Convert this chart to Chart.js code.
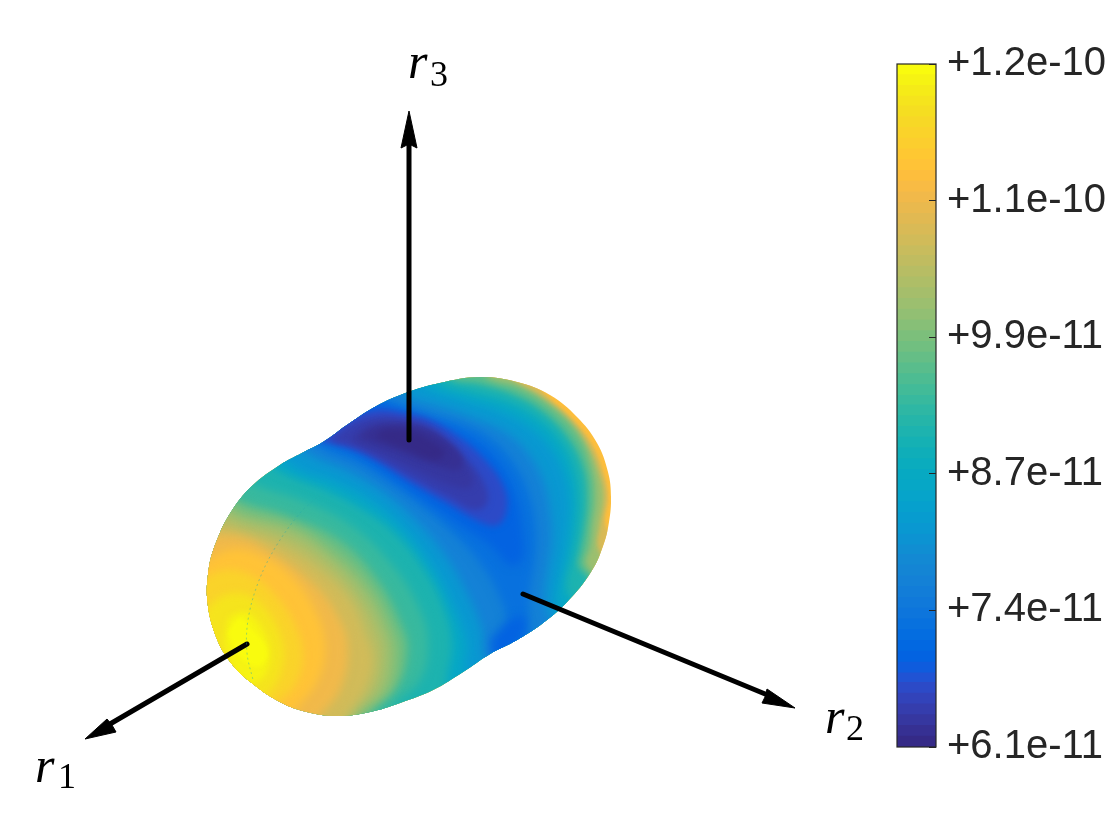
<!DOCTYPE html>
<html>
<head>
<meta charset="utf-8">
<title>r1 r2 r3 surface</title>
<script src="https://cdn.jsdelivr.net/npm/chart.js@4"></script>
<style>
  html, body { margin: 0; padding: 0; background: #fff; }
  #page { position: relative; width: 1120px; height: 840px; overflow: hidden; }
  canvas { position: absolute; }
  #surface, #axes3d { left: 0; top: 0; }
  #colorbar { left: 880px; top: 40px; }
</style>
</head>
<body>
<div id="page">
  <canvas id="surface" width="1120" height="840"></canvas>
  <canvas id="axes3d" width="1120" height="840"></canvas>
  <canvas id="colorbar" width="240" height="740"></canvas>
</div>
<script>
'use strict';

// colorbar, values in units of 1e-11
const colorbarEdges = [6.13,6.23,6.33,6.43,6.53,6.63,6.73,6.82,6.92,7.02,7.12,7.22,7.32,7.42,7.52,7.62,7.72,7.82,7.92,8.01,8.11,8.21,8.31,8.41,8.51,8.61,8.71,8.81,8.91,9.01,9.11,9.21,9.31,9.40,9.50,9.60,9.70,9.80,9.90,10.00,10.10,10.20,10.30,10.40,10.50,10.60,10.70,10.79,10.89,10.99,11.09,11.19,11.29,11.39,11.49,11.59,11.69,11.79,11.89,11.99,12.09,12.18,12.28,12.38,12.48];
const colorbarTickValues = [6.13, 7.40, 8.67, 9.94, 11.21, 12.48];
const colorbarTickLabels = ['+6.1e-11', '+7.4e-11', '+8.7e-11', '+9.9e-11', '+1.1e-10', '+1.2e-10'];
const parula = ['#352a87','#363093','#3637a0','#353dad','#3243ba','#2c4ac7','#2053d4','#0f5cdd','#0363e1','#0268e1','#046de0','#0871de','#0d75dc','#1079da','#127dd8','#1481d6','#1485d4','#1389d3','#108ed2','#0c93d2','#0998d1','#079ccf','#06a0cd','#06a4ca','#06a7c6','#07a9c2','#0aacbe','#0faeb9','#15b1b4','#1db3af','#25b5a9','#2eb7a4','#38b99e','#42bb98','#4dbc92','#59bd8c','#65be86','#71bf80','#7cbf7b','#87bf77','#92bf73','#9cbf6f','#a5be6b','#aebe67','#b7bd64','#c0bc60','#c8bc5d','#d1bb59','#d9ba56','#e1b952','#e9b94e','#f1b94a','#f8bb44','#fdbe3d','#ffc337','#fec832','#fcce2e','#fad32a','#f7d826','#f5de21','#f5e41d','#f5eb18','#f6f313','#f9fb0e'];

// silhouette of the surface, last points overlap the first so the seam stays smooth
const outline = [[207,597],[209,567],[217,540],[231,512],[252,486],[280,465],[302,453],[323,442],[347,425],[373,408],[403,394],[440,383],[480,377],[517,382],[550,395],[577,417],[597,443],[608,472],[611,497],[609,522],[603,546],[591,572],[567,602],[543,623],[517,640],[490,654],[463,672],[433,690],[400,703],[370,712],[337,716],[307,712],[280,702],[253,684],[231,663],[215,634],[207,597],[209,567]];

// iso-value contours, painted in this order
const contourLevels = [11.44, 10.94, 10.25, 9.65, 9.06, 8.56, 8.16, 7.67, 7.27, 6.97, 6.97, 6.68, 6.48, 6.38, 6.28, 6.18, 9.35, 9.75, 9.95, 10.25, 10.55, 10.84, 11.24, 11.54, 11.84, 12.13, 12.33, 12.43];
const contourBlur = [0, 1.5, 2, 3, 3, 5, 5, 5, 5, 5, 5, 3, 3, 3, 3, 3, 5, 5, 5, 5, 5, 5, 5, 5, 4, 4, 3, 2];
const rim0 = [[150,330],[650,330],[650,760],[150,760],[150,330]];
const rim1 = [[100,340],[500,350],[528,376],[550,399],[574,421],[593,446],[604,475],[608,497],[605,522],[612,540],[620,600],[500,760],[100,760],[100,340]];
const rim2 = [[100,340],[480,350],[510,378],[540,396],[568,419],[588,446],[600,475],[604,497],[600,525],[598,548],[615,575],[600,650],[500,760],[100,760],[100,340]];
const rim3 = [[100,340],[470,352],[485,376],[520,388],[552,408],[578,435],[592,470],[595,500],[592,525],[590,545],[586,566],[610,590],[590,660],[500,760],[100,760],[100,340]];
const rim4 = [[100,340],[440,350],[450,378],[480,384],[515,395],[545,413],[570,440],[584,470],[587,500],[584,530],[580,552],[578,565],[590,580],[610,620],[500,760],[100,760],[100,340]];
const low1 = [[255,455],[285,474],[325,490],[360,508],[395,533],[425,570],[445,610],[452,645],[447,682],[452,705],[560,650],[580,610],[566,590],[572,555],[576,530],[578,503],[575,475],[563,445],[540,420],[510,403],[470,392],[440,383],[425,365],[300,420],[255,455]];
const low2 = [[270,445],[295,468],[335,482],[370,500],[405,530],[435,570],[455,610],[467,645],[465,668],[475,690],[560,630],[556,600],[560,575],[565,550],[568,525],[569,503],[565,478],[553,452],[530,428],[500,412],[462,400],[425,387],[410,370],[320,410],[270,445]];
const low3 = [[290,440],[310,455],[345,470],[380,490],[415,520],[445,555],[468,595],[482,630],[484,655],[495,675],[550,635],[545,600],[548,570],[552,540],[550,510],[543,480],[527,452],[505,432],[470,417],[435,405],[405,395],[395,375],[340,405],[290,440]];
const low4 = [[305,435],[325,450],[355,462],[385,480],[420,505],[455,535],[485,570],[503,605],[508,630],[505,645],[510,665],[527,650],[528,625],[530,590],[535,560],[536,530],[530,497],[515,465],[492,440],[465,425],[430,415],[400,405],[385,398],[375,385],[305,435]];
const low5a = [[320,430],[330,440],[360,455],[390,475],[425,500],[460,525],[490,545],[510,565],[522,560],[522,530],[515,495],[500,465],[478,443],[450,428],[420,417],[395,408],[375,402],[360,395],[320,430]];
const low5b = [[490,640],[510,620],[525,618],[520,640],[495,660],[490,640]];
const low6 = [[315,440],[345,447],[375,460],[410,482],[450,505],[480,522],[498,525],[507,508],[503,485],[485,460],[460,438],[430,420],[400,412],[375,410],[350,418],[330,430],[315,440]];
const low7 = [[330,441],[355,447],[385,462],[420,482],[450,498],[475,510],[487,503],[485,485],[472,465],[452,445],[430,427],[400,418],[375,417],[350,425],[330,441]];
const low8 = [[350,440],[385,455],[420,472],[450,485],[470,488],[472,475],[460,458],[443,440],[420,427],[390,423],[365,428],[350,440]];
const low9 = [[360,438],[395,450],[430,463],[458,470],[462,458],[445,440],[420,428],[390,425],[368,430],[360,438]];
const low10 = [[375,437],[405,449],[435,460],[445,453],[430,440],[410,431],[385,430],[375,437]];
const high1 = [[245,480],[262,488],[300,500],[350,525],[392,565],[420,610],[428,645],[420,680],[395,705],[390,725],[190,740],[190,470],[245,480]];
const high2 = [[230,495],[245,503],[285,515],[340,540],[378,580],[402,625],[408,650],[398,685],[372,712],[370,730],[190,740],[190,480],[230,495]];
const high2b = [[228,500],[243,509],[290,523],[335,548],[372,585],[395,628],[401,652],[392,688],[365,714],[362,733],[190,740],[190,485],[228,500]];
const high3 = [[225,505],[240,515],[295,530],[332,555],[367,590],[388,630],[393,655],[385,690],[358,715],[355,735],[190,740],[190,490],[225,505]];
const high3b = [[221,515],[238,522],[290,538],[327,562],[358,595],[378,632],[383,657],[375,690],[351,716],[347,735],[190,740],[190,500],[221,515]];
const high4 = [[217,525],[235,530],[280,545],[320,570],[350,600],[366,635],[373,660],[365,690],[345,718],[340,735],[190,740],[190,510],[217,525]];
const high5 = [[212,535],[240,537],[265,548],[315,585],[340,620],[348,650],[340,690],[320,716],[310,730],[190,730],[190,520],[212,535]];
const high6 = [[200,565],[228,550],[255,553],[290,575],[315,610],[325,645],[318,680],[297,708],[285,725],[190,730],[200,565]];
const high7 = [[200,580],[225,570],[250,575],[275,595],[295,625],[303,655],[295,685],[275,705],[262,720],[190,720],[200,580]];
const high8 = [[205,610],[225,595],[248,595],[268,612],[282,640],[283,665],[272,690],[255,700],[235,695],[205,660],[205,610]];
const high9 = [[228,618],[245,612],[260,625],[270,650],[265,675],[250,683],[235,670],[225,645],[228,618]];
const high10 = [[228,632],[240,618],[253,630],[267,650],[262,665],[250,665],[235,650],[228,632]];
const contours = [rim0, rim1, rim2, rim3, rim4, low1, low2, low3, low4, low5a, low5b, low6, low7, low8, low9, low10, high1, high2, high2b, high3, high3b, high4, high5, high6, high7, high8, high9, high10];

// coordinate axes drawn over the surface
const seam = [[320,495],[300,513],[275,548],[258,583],[248,620],[247,653],[253,680]];
const axisShafts = [[[409,440],[409,140]], [[247,644],[110,724]], [[523,594],[770,696]]];
const axisHeads = [
  [[409,111],[417,148],[409,144],[401,148],[409,111]],
  [[85,739],[107,719],[112,725],[116,732],[85,739]],
  [[795,708],[767,689],[765,697],[762,703],[795,708]]
];
const axisNames = ['r', 'r', 'r'];
const axisIndices = ['3', '1', '2'];
const axisNameAt = [[408,78], [35,782], [825,733]];
const axisIndexAt = [[430,86], [58,788], [846,740]];

function toXY(points) {
  return points.map(([x, y]) => ({ x, y }));
}

function levelColor(v) {
  let i = 0;
  while (i < parula.length - 1 && colorbarEdges[i + 1] <= v) i += 1;
  return parula[i];
}

const pixelScales = {
  x: { type: 'linear', display: false, min: 0, max: 1120 },
  y: { type: 'linear', display: false, min: 0, max: 840, reverse: true },
};

const quietOptions = {
  responsive: false,
  animation: false,
  layout: { padding: 0 },
  events: [],
};

// each contour is softened and cut to the silhouette, so the steps read as a smooth shading
const surfaceShading = {
  id: 'surfaceShading',
  beforeDatasetsDraw(chart) {
    const ctx = chart.ctx;
    const outlineLine = chart.getDatasetMeta(contours.length).dataset;
    outlineLine.updateControlPoints(chart.chartArea);
    ctx.save();
    ctx.beginPath();
    outlineLine.path(ctx);
    ctx.closePath();
    ctx.clip();
    contours.forEach((points, i) => {
      const line = chart.getDatasetMeta(i).dataset;
      line.updateControlPoints(chart.chartArea);
      ctx.filter = contourBlur[i] ? `blur(${contourBlur[i]}px)` : 'none';
      ctx.fillStyle = levelColor(contourLevels[i]);
      ctx.beginPath();
      line.path(ctx);
      ctx.closePath();
      ctx.fill();
    });
    ctx.restore();
  },
};

const surfaceDatasets = contours.map((points) => ({
  data: toXY(points), showLine: true, pointRadius: 0, borderWidth: 0, tension: 0.4, fill: false,
}));
surfaceDatasets.push({ data: toXY(outline), showLine: true, pointRadius: 0, borderWidth: 0, tension: 0.4, fill: false });

new Chart(document.getElementById('surface'), {
  type: 'scatter',
  data: { datasets: surfaceDatasets },
  options: {
    ...quietOptions,
    scales: pixelScales,
    elements: { line: { capBezierPoints: false } },
    plugins: { legend: { display: false }, tooltip: { enabled: false } },
  },
  plugins: [surfaceShading],
});

const axisText = {
  id: 'axisText',
  afterDatasetsDraw(chart) {
    const ctx = chart.ctx;
    const sx = chart.scales.x;
    const sy = chart.scales.y;
    ctx.save();
    ctx.fillStyle = '#000';
    ctx.textBaseline = 'alphabetic';
    axisNames.forEach((name, i) => {
      ctx.font = 'italic 50px "Liberation Serif", serif';
      ctx.fillText(name, sx.getPixelForValue(axisNameAt[i][0]), sy.getPixelForValue(axisNameAt[i][1]));
      ctx.font = '36px "Liberation Serif", serif';
      ctx.fillText(axisIndices[i], sx.getPixelForValue(axisIndexAt[i][0]), sy.getPixelForValue(axisIndexAt[i][1]));
    });
    ctx.restore();
  },
};

const axisDatasets = [
  { data: toXY(seam), showLine: true, pointRadius: 0, borderColor: 'rgba(40,170,170,0.45)', borderWidth: 1, borderDash: [2, 3], tension: 0.35 },
  ...axisShafts.map((points) => ({ data: toXY(points), showLine: true, pointRadius: 0, borderColor: '#000', borderWidth: 5, borderCapStyle: 'round' })),
  ...axisHeads.map((points) => ({ data: toXY(points), showLine: true, pointRadius: 0, borderColor: '#000', borderWidth: 1, backgroundColor: '#000', fill: 'shape' })),
];

new Chart(document.getElementById('axes3d'), {
  type: 'scatter',
  data: { datasets: axisDatasets },
  options: {
    ...quietOptions,
    scales: pixelScales,
    plugins: { legend: { display: false }, tooltip: { enabled: false } },
  },
  plugins: [axisText],
});

const colorbarFrame = {
  id: 'colorbarFrame',
  afterDatasetsDraw(chart) {
    const { ctx, chartArea: a } = chart;
    ctx.save();
    ctx.strokeStyle = '#262626';
    ctx.lineWidth = 1.2;
    ctx.strokeRect(a.left, a.top, a.right - a.left, a.bottom - a.top);
    ctx.restore();
  },
};

new Chart(document.getElementById('colorbar'), {
  type: 'bar',
  data: {
    labels: ['colorbar'],
    datasets: parula.map((color, i) => ({
      data: [[colorbarEdges[i], colorbarEdges[i + 1]]],
      backgroundColor: color,
      borderWidth: 0,
      borderSkipped: false,
      grouped: false,
      barPercentage: 1,
      categoryPercentage: 1,
      inflateAmount: 0.4,
    })),
  },
  options: {
    ...quietOptions,
    layout: { padding: { left: 17, top: 24, bottom: 33, right: 0 } },
    scales: {
      x: { display: false },
      y: {
        position: 'right',
        min: colorbarTickValues[0],
        max: colorbarTickValues[colorbarTickValues.length - 1],
        afterBuildTicks: (scale) => { scale.ticks = colorbarTickValues.map((value) => ({ value })); },
        afterFit: (scale) => { scale.width = 184; scale.paddingTop = 0; scale.paddingBottom = 0; },
        border: { display: false },
        grid: { drawOnChartArea: false, drawTicks: true, tickLength: -7, color: '#262626', lineWidth: 1, z: 1 },
        ticks: {
          color: '#262626',
          padding: 18,
          autoSkip: false,
          maxRotation: 0,
          font: { family: '"Liberation Sans", Arial, sans-serif', size: 40 },
          callback: (value, index) => colorbarTickLabels[index],
        },
      },
    },
    plugins: { legend: { display: false }, tooltip: { enabled: false } },
  },
  plugins: [colorbarFrame],
});
</script>
</body>
</html>
